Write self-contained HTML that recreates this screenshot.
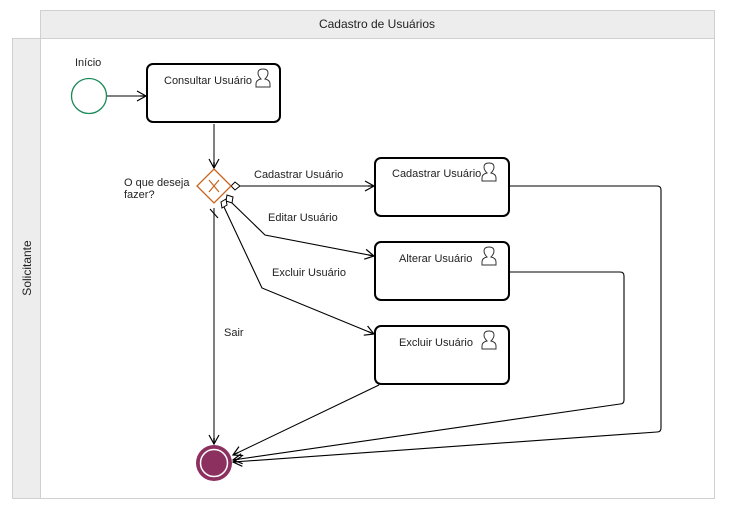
<!DOCTYPE html>
<html><head><meta charset="utf-8"><style>body{margin:0;background:#fff}svg{display:block}text{font-family:"Liberation Sans",sans-serif;font-size:11px;fill:#222}</style></head><body>
<svg width="730" height="512" viewBox="0 0 730 512">
<defs><marker id="a" markerWidth="12" markerHeight="12" refX="10" refY="6" orient="auto" markerUnits="userSpaceOnUse"><path d="M1,1 L10,6 L1,11 M10,6 L4,6" fill="none" stroke="#000" stroke-width="1.2"/></marker></defs>
<rect x="40.5" y="10.5" width="674" height="28" fill="#ededed" stroke="#d0d0d0"/>
<text x="377" y="28" text-anchor="middle" style="font-size:12px">Cadastro de Usuários</text>
<rect x="12.5" y="38.5" width="702" height="460" fill="#fff" stroke="#d0d0d0"/>
<rect x="12.5" y="38.5" width="28" height="460" fill="#ededed" stroke="#d0d0d0"/>
<text transform="translate(31,268) rotate(-90)" text-anchor="middle" style="font-size:12px">Solicitante</text>
<g fill="none" stroke="#000" stroke-width="1.1">
<path d="M106,96 H146" marker-end="url(#a)"/>
<path d="M214,124 V168" marker-end="url(#a)" stroke="#555" stroke-width="1.5"/>
<path d="M239,186 H374" marker-end="url(#a)"/>
<path d="M231,202 L265,235 L374,256" marker-end="url(#a)"/>
<path d="M224,207 L262,288 L374,334" marker-end="url(#a)"/>
<path d="M214,208 V444" marker-end="url(#a)" stroke="#555" stroke-width="1.5"/>
<path d="M210,209 L218,218" stroke="#000"/>
<path d="M379,385 L233,455" marker-end="url(#a)"/>
<path d="M509,272 H620 Q624,272 624,276 V400 Q624,404 620,404 L233,460" marker-end="url(#a)"/>
<path d="M509,186 H657 Q661,186 661,190 V428 Q661,432 657,432 L233,462" marker-end="url(#a)"/>
</g>
<path d="M231,186 L235,182 L240,186 L235,190 Z" fill="#fff" stroke="#000"/>
<path d="M226,201 L227,195 L233,197 L232,203 Z" fill="#fff" stroke="#000"/>
<path d="M222,208 L221,202 L226,199 L227,205 Z" fill="#fff" stroke="#000"/>
<circle cx="89" cy="96" r="17.5" fill="#fff" stroke="#1a8a5a" stroke-width="1.3"/>
<text x="75" y="66">Início</text>
<g fill="#fff" stroke="#000" stroke-width="2">
<rect x="147" y="64" width="133" height="58" rx="6"/>
<rect x="375" y="158" width="134" height="58" rx="6"/>
<rect x="375" y="242" width="134" height="58" rx="6"/>
<rect x="375" y="326" width="134" height="58" rx="6"/>
</g>
<text x="164" y="84">Consultar Usuário</text>
<text x="392" y="177">Cadastrar Usuário</text>
<text x="399" y="262">Alterar Usuário</text>
<text x="399" y="346">Excluir Usuário</text>
<g fill="none" stroke="#333" stroke-width="1">
<path id="u" d="M256,87 L256,84 Q256,80 261,79 Q258,76 258,73 Q258,69 263,69 Q268,69 268,73 Q268,76 265,79 Q270,80 270,84 L270,87 Z"/>
<use href="#u" x="226" y="94"/><use href="#u" x="226" y="178"/><use href="#u" x="226" y="262"/>
</g>
<path d="M214,169 L231,186 L214,203 L197,186 Z" fill="#fff" stroke="#c8641e" stroke-width="1.3"/>
<path d="M209,180 L219,192 M219,180 L209,192" stroke="#c8641e" stroke-width="1.2"/>
<text x="124" y="186">O que deseja</text>
<text x="124" y="198">fazer?</text>
<text x="254" y="178">Cadastrar Usuário</text>
<text x="268" y="221">Editar Usuário</text>
<text x="272" y="276">Excluir Usuário</text>
<text x="224" y="336">Sair</text>
<circle cx="214" cy="463" r="18" fill="#8c3060"/>
<circle cx="214" cy="463" r="13.5" fill="#8c3060" stroke="#fff" stroke-width="1.5"/>
</svg>
</body></html>
